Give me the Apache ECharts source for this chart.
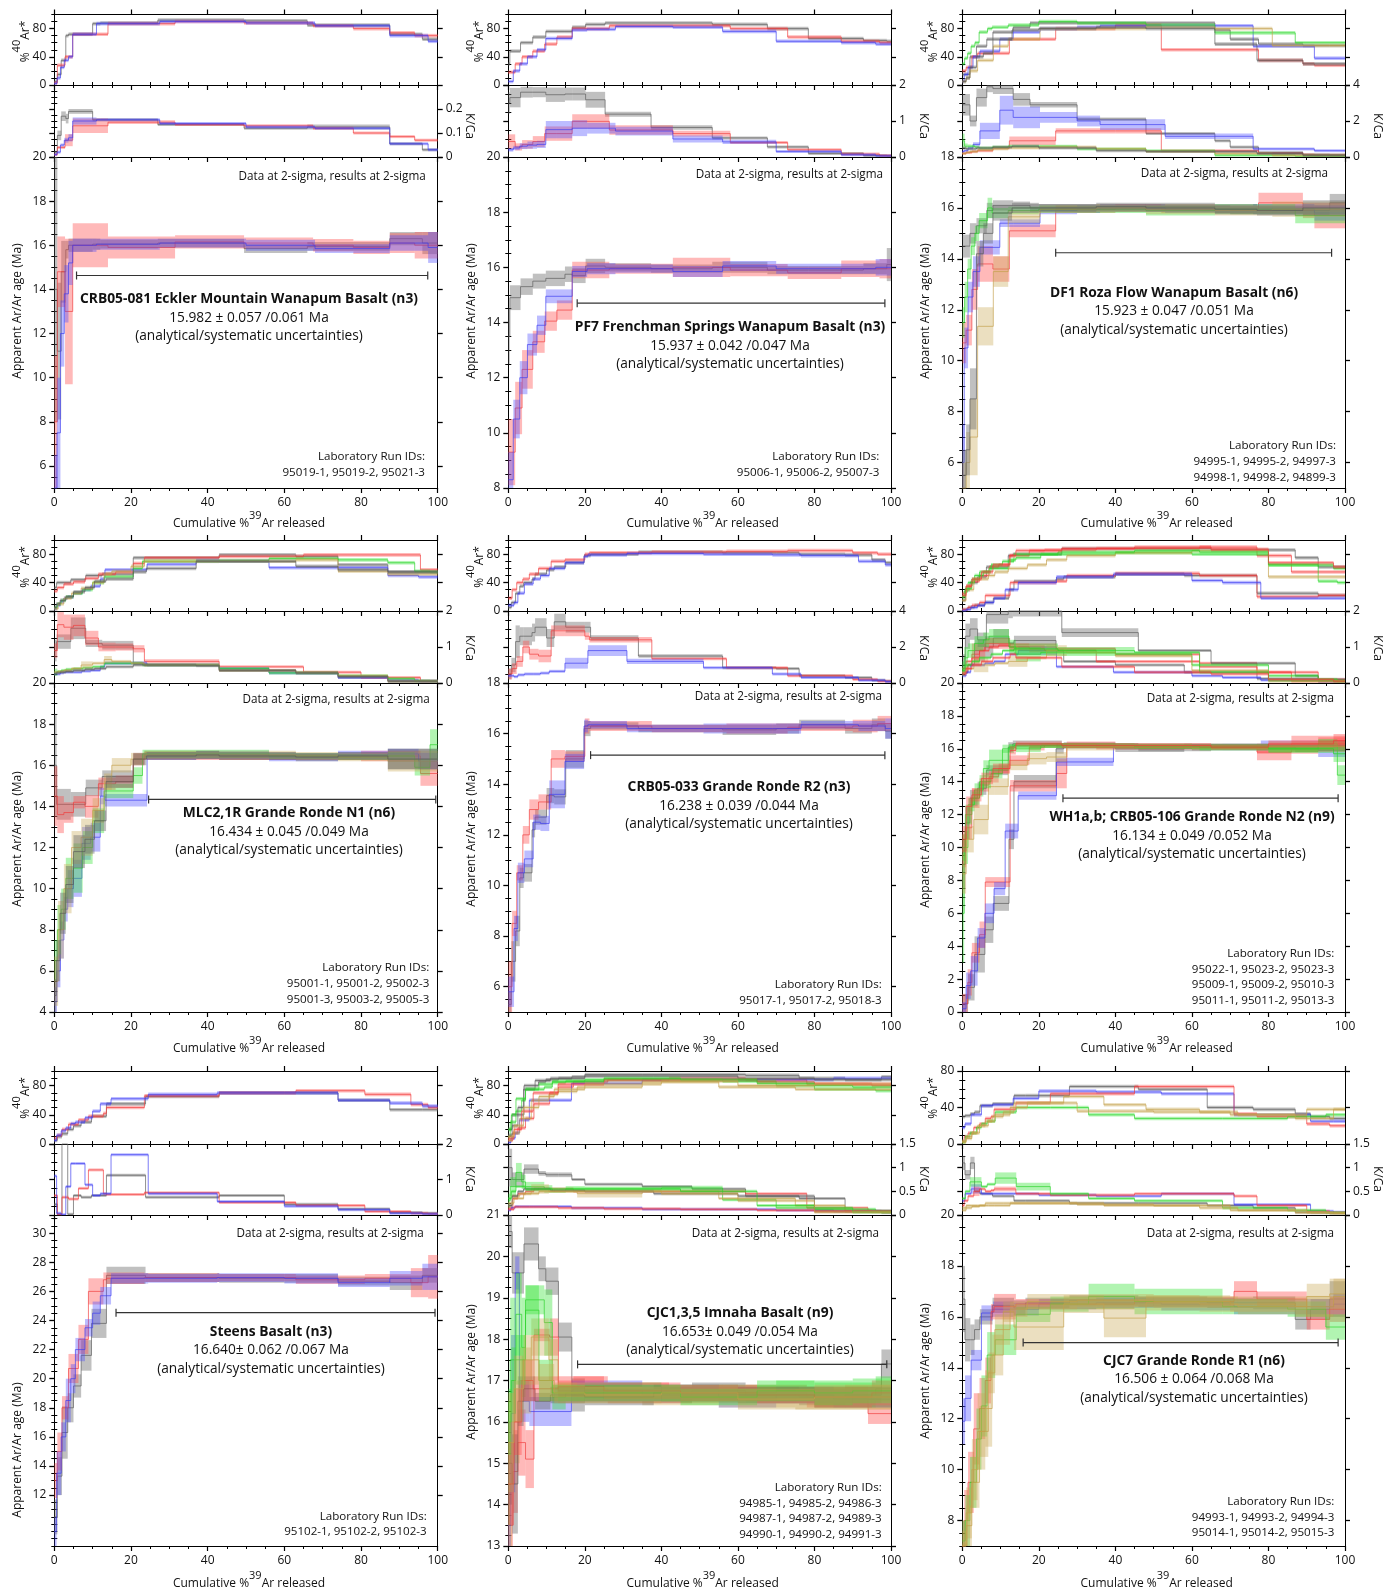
<!DOCTYPE html>
<html>
<head>
<meta charset="utf-8">
<script src="https://cdn.jsdelivr.net/npm/echarts@6/dist/echarts.min.js"></script>
<style>
  html, body { margin: 0; background: #fff; }
  #chart { width: 1396px; height: 1587px; }
</style>
</head>
<body>
<div id="chart"></div>
<script>
// each step: [cumulative %39Ar at step end, age (Ma), age 2s, %40Ar*, K/Ca, K/Ca 2s]
const eckler = [
  [[0.8,14,6,5,0.02],[1.8,11.2,3.1,15,0.09,0.02],[3.0,14.8,1.4,35,0.17,0.02],[3.7,15.8,0.4,70,0.16,0.02],[10,16.0,0.3,72,0.19,0.01],[12,16.05,0.25,87,0.155],[27,16.05,0.2,88,0.155],[49.5,16.1,0.2,92,0.135],[66,15.85,0.2,91,0.12],[87.5,15.95,0.2,85,0.125,0.01],[96,16.3,0.3,72,0.055],[100,16.1,0.5,65,0.03]],
  [[0.8,8,3,3,0.01],[2.8,14.8,1.6,28,0.04],[4.8,13.0,3.3,40,0.07,0.025],[14,16.0,1.0,72,0.13,0.03],[31.5,15.9,0.5,87,0.145,0.008],[49.5,16.15,0.3,90,0.135],[67.5,16.1,0.25,88,0.13],[78,16.0,0.28,84,0.12],[87.5,15.9,0.3,80,0.10],[94,16.1,0.45,74,0.085],[100,16.0,0.6,70,0.07]],
  [[0.7,5.0,1.5,2,0.01],[1.6,7.5,2.5,10,0.02],[2.6,12.0,1.5,25,0.05],[3.7,13.8,1.3,35,0.07,0.01],[4.8,15.2,1.0,40,0.08,0.015],[11,16.0,0.3,72,0.15,0.015],[27.5,16.05,0.25,87,0.155],[50,16.1,0.2,90,0.14],[68,16.0,0.25,88,0.125],[87.5,15.85,0.2,84,0.12],[97.5,16.1,0.35,70,0.055],[100,15.9,0.7,62,0.03]]
];
const ecklerColors = ['gray','red','blue'];

const frenchman = [
  [[0.4,13.5,1.0,30,1.5,0.3],[3.2,14.9,0.45,48,1.65,0.27],[6.4,15.3,0.3,60,1.8,0.15],[9.8,15.5,0.27,68,1.8,0.14],[14.8,15.6,0.28,76,1.73,0.2],[16.7,15.75,0.28,76,1.75,0.18],[20.2,15.7,0.27,82,1.75,0.18],[25.3,16.05,0.26,86,1.59,0.22],[37.3,16.0,0.15,88,1.19,0.07],[53.3,15.95,0.15,88,0.82,0.06],[67.7,16.0,0.2,86,0.53,0.04],[78.4,15.9,0.15,80,0.28,0.03],[92.8,15.9,0.15,66,0.1],[98.9,15.95,0.2,63,0.04],[100,16.1,0.6,62,0.03]],
  [[1.8,9.3,1.2,18,0.43,0.2],[3.6,10.9,0.95,30,0.28,0.1],[6.4,12.3,0.7,40,0.35,0.12],[9.5,13.3,0.4,48,0.43,0.15],[12.7,14.05,0.35,58,0.65,0.2],[16.7,14.45,0.35,68,0.65,0.2],[26.4,15.9,0.3,80,0.99,0.2],[43,15.95,0.18,84,0.75,0.13],[58,16.0,0.35,84,0.65,0.08],[73,15.9,0.22,80,0.4,0.04],[87,15.8,0.22,68,0.2,0.03],[97,15.95,0.3,62,0.08],[100,15.95,0.35,60,0.04]],
  [[1.3,8.3,1.0,5,0.2,0.05],[3.0,10.5,0.7,20,0.25,0.06],[5.0,12.0,0.6,30,0.3,0.08],[7.5,13.2,0.4,40,0.33,0.1],[9.8,13.9,0.35,50,0.35,0.1],[16.7,14.95,0.25,66,0.76,0.24],[20.6,15.85,0.2,78,0.8,0.22],[28,15.95,0.2,79,0.8,0.15],[43,15.95,0.15,83,0.72,0.12],[56,15.85,0.2,82,0.5,0.1],[70,16.05,0.18,76,0.42,0.06],[87,15.95,0.18,62,0.15],[96,15.95,0.18,60,0.06],[100,16.0,0.3,58,0.03]]
];
const frenchmanColors = ['gray','red','blue'];

const roza = [
  [[2.0,14.5,0.45,15,2.9,0.6],[3.7,15.0,0.4,40,2.0,0.3],[6.4,15.3,0.3,55,3.3,0.5],[8.0,15.9,0.3,65,3.9,0.3],[13.3,16.1,0.2,75,3.8,0.3],[17.7,16.1,0.15,82,3.2,0.35],[30,16.0,0.15,88,2.9,0.15],[48,16.0,0.15,88,2.1,0.1],[66,16.05,0.15,88,1.3,0.08],[70,15.95,0.15,78,0.9,0.05],[77.4,15.9,0.15,65,0.55],[89,15.9,0.15,58,0.25],[96,15.9,0.2,56,0.12],[100,16.2,0.35,56,0.1]],
  [[1.0,10.7,0.8,20,0.2],[2.5,11.2,0.6,25,0.25],[4.0,12.8,0.8,40,0.3],[8.0,13.8,0.7,45,0.35],[12.3,13.6,0.5,45,0.5],[24.4,15.1,0.25,65,0.9,0.24],[40,15.95,0.15,80,1.45,0.15],[52,16.0,0.15,85,1.45,0.15],[77.4,15.95,0.15,50,0.35],[89,16.2,0.4,35,0.2],[92,15.9,0.3,30,0.12],[100,15.7,0.5,28,0.1]],
  [[0.5,6.0,1.5,5,0.3],[1.5,10.5,0.8,15,0.35],[2.8,12.5,0.6,25,0.5],[4.6,13.5,0.6,40,0.7,0.12],[9.8,14.45,0.28,48,1.45,0.45],[13.3,15.4,0.15,65,2.6,0.8],[20.3,15.4,0.15,75,2.2,0.6],[30,15.9,0.15,80,2.2,0.3],[36,15.95,0.15,82,2.0,0.3],[53,16.0,0.15,84,1.8,0.3],[76,15.95,0.15,84,1.15,0.15],[92,15.95,0.2,55,0.45],[100,15.8,0.3,38,0.35]],
  [[0.6,11.5,0.6,30,0.9,0.4],[1.4,12.5,0.6,38,0.6,0.15],[2.3,13.6,0.4,45,0.6,0.1],[3.3,14.5,0.35,55,0.6],[4.4,15.0,0.3,60,0.55],[6.6,15.5,0.3,75,0.5],[7.8,16.0,0.4,80,0.5],[12,15.8,0.2,82,0.55],[20,15.9,0.15,85,0.6],[30,15.95,0.15,90,0.6],[48,15.95,0.15,88,0.45],[66,15.9,0.2,85,0.35],[87,15.95,0.2,74,0.1],[100,15.7,0.3,60,0.05]],
  [[1.0,5.0,1.0,5,0.2],[2.0,6.0,1.2,10,0.25],[4.0,7.0,1.5,20,0.3],[8.1,11.35,0.75,35,0.4],[12,13.5,0.6,55,0.45],[20.3,15.65,0.25,65,0.5],[35,15.95,0.15,80,0.55],[48,16.0,0.15,80,0.45],[66,15.95,0.2,82,0.3],[81,15.9,0.2,80,0.2],[100,15.95,0.3,56,0.1]],
  [[1.0,5.5,1.0,5,0.5],[2.0,6.5,1.0,10,0.45],[3.7,8.5,1.2,25,0.45],[5.5,14.2,0.5,40,0.5],[8.0,15.0,0.4,45,0.5],[13,15.8,0.3,65,0.55],[20,16.0,0.2,78,0.6],[35,16.0,0.15,80,0.5],[48,16.05,0.15,82,0.35],[66,16.0,0.15,80,0.3],[77,15.95,0.2,58,0.3],[89,15.9,0.2,35,0.2],[100,16.0,0.3,30,0.1]]
];
const rozaColors = ['gray','red','blue','green','tan','gray'];

const mlc2 = [
  [[0.6,16.0,2.5,33,0.9,0.3],[4.3,14.1,0.75,40,1.15,0.2],[8.2,14.1,0.6,44,1.52,0.3],[12.5,14.9,0.4,50,1.1,0.1],[20.6,15.45,0.3,52,1.05,0.12],[23.5,16.3,0.25,75,0.55],[43,16.5,0.2,75,0.5],[63,16.45,0.2,79,0.35],[74,16.4,0.15,77,0.28],[87,16.45,0.2,65,0.15],[100,16.3,0.5,55,0.05]],
  [[0.8,14.5,1.45,28,0.9,0.2],[2.5,13.6,0.9,33,1.62,0.35],[5.0,13.7,0.5,38,1.55,0.35],[8.0,14.2,0.3,41,1.6,0.3],[11.5,14.0,0.55,46,1.25,0.2],[16,15.1,0.3,52,1.0,0.12],[20.6,15.2,0.3,55,1.0,0.1],[23.5,16.3,0.3,67,0.95,0.1],[43,16.45,0.2,75,0.6,0.06],[65,16.4,0.15,77,0.45],[80,16.4,0.15,79,0.3],[95.5,16.45,0.25,79,0.15],[100,15.6,0.6,58,0.05]],
  [[0.7,4.5,0.7,3,0.25],[1.6,6.0,0.8,8,0.25],[2.5,7.5,0.9,13,0.28],[3.5,9.0,0.6,18,0.3],[5.0,10.0,0.9,20,0.3],[7.2,10.5,0.9,25,0.3],[9.5,12.2,0.8,30,0.33],[12.0,12.5,0.7,35,0.35],[13.2,14.5,0.4,45,0.45],[24.2,14.3,0.3,58,0.55,0.05],[37,16.45,0.2,66,0.5],[43,16.5,0.2,71,0.5],[56,16.5,0.2,70,0.4],[74,16.4,0.2,61,0.28],[87,16.5,0.2,61,0.15],[95,16.55,0.25,50,0.08],[100,16.2,0.4,48,0.05]],
  [[0.8,6.5,1.0,5,0.3,0.1],[1.8,8.0,1.2,10,0.32],[3.0,9.0,1.0,15,0.35],[5.0,10.5,1.0,20,0.38],[7.4,11.0,1.2,25,0.4],[10.0,12.0,0.8,30,0.42],[13.0,13.3,0.6,40,0.45],[20.6,14.75,0.35,48,0.55],[23.0,15.5,0.4,60,0.55],[43,16.55,0.2,70,0.5],[56,16.55,0.2,71,0.4],[74,16.45,0.15,74,0.28],[87,16.4,0.15,72,0.2],[94,16.45,0.2,68,0.12],[98,15.9,0.4,56,0.06],[100,17.0,0.75,55,0.05]],
  [[1.0,5.5,1.2,3,0.3],[2.5,8.0,1.4,10,0.32],[4.5,10.0,1.2,18,0.35],[7.0,12.0,0.8,25,0.4],[10.0,12.5,0.9,32,0.5,0.1],[13.0,13.8,0.6,40,0.55],[15.0,15.2,0.4,52,0.65,0.1],[20.0,16.0,0.35,56,0.6],[23.5,16.3,0.3,63,0.55],[43,16.5,0.2,70,0.5],[63,16.5,0.2,70,0.35],[74,16.45,0.2,72,0.3],[87,16.4,0.2,56,0.2],[100,16.2,0.5,52,0.05]],
  [[0.5,4.8,0.8,5,0.25],[1.5,6.5,1.0,10,0.28],[3.0,8.8,1.0,15,0.3],[5.0,10.2,0.9,20,0.32],[8.0,11.8,0.8,27,0.35],[10.5,12.4,0.7,33,0.38],[13.5,13.3,0.5,42,0.4],[20.6,15.2,0.3,45,0.45],[24,16.3,0.3,55,0.5],[37,16.45,0.2,60,0.5],[43,16.5,0.2,70,0.48],[63,16.45,0.2,70,0.35],[74,16.4,0.2,63,0.28],[87,16.45,0.2,58,0.18],[100,16.3,0.5,55,0.05]]
];
const mlc2Colors = ['gray','red','blue','green','tan','gray'];

const crb033 = [
  [[0.8,5.3,0.5,5,0.5,0.3],[1.9,7.0,0.8,12,1.0,0.4],[3.0,8.2,0.6,25,2.3,0.9],[4.0,10.3,0.4,35,2.6,0.5],[6.2,10.5,0.35,40,2.6,0.5],[7.0,12.2,0.3,45,2.8,0.5],[10.0,12.7,0.3,52,3.1,0.5],[12.0,13.55,0.3,58,2.5,0.5],[15.0,13.5,0.3,62,3.4,0.45],[19.8,15.0,0.35,68,3.1,0.3],[21.5,16.2,0.3,78,3.1,0.3],[34,16.3,0.15,80,2.5,0.15],[56,16.2,0.15,83,1.5,0.1],[70,16.15,0.2,82,0.85],[76,16.2,0.2,82,0.8],[88,16.35,0.2,80,0.4],[95,16.2,0.2,79,0.3],[98.5,16.35,0.25,72,0.15],[100,16.1,0.3,68,0.1]],
  [[1.0,6.0,1.0,18,0.5,0.3],[2.2,8.5,0.5,30,0.8,0.3],[3.8,10.5,0.3,40,1.2,0.3],[5.5,12.0,0.35,45,2.0,0.35],[7.9,13.0,0.4,52,1.6,0.3],[11.2,13.3,0.3,60,1.5,0.35],[14.8,15.0,0.35,70,2.9,0.3],[20.0,15.1,0.2,72,2.9,0.3],[21.2,16.3,0.3,80,2.6,0.2],[37.5,16.3,0.2,82,2.4,0.15],[57,16.2,0.15,83,1.35],[73,16.2,0.2,84,0.85],[90,16.25,0.15,85,0.4],[96.5,16.3,0.25,82,0.2],[100,16.4,0.3,80,0.1]],
  [[1.5,5.8,0.6,8,0.4],[2.5,8.3,0.5,12,0.35],[4.2,10.5,0.4,25,0.45],[6.5,11.05,0.33,38,0.5],[8.4,12.5,0.3,45,0.5],[10.7,12.45,0.3,50,0.55],[14.8,13.6,0.55,60,0.65],[19.8,14.9,0.3,68,1.1,0.3],[20.8,16.3,0.25,77,1.1,0.3],[31,16.35,0.15,79,1.8,0.3],[51,16.2,0.15,81,1.2,0.15],[69,16.2,0.2,80,0.85],[76.5,16.2,0.2,79,0.5],[91.5,16.35,0.15,78,0.3],[98.5,16.3,0.2,70,0.15],[100,16.2,0.4,65,0.08]]
];
const crb033Colors = ['gray','red','blue'];

const wh1 = [
  [[1.5,0.5,0.6,2,0.3],[3.2,1.5,0.8,5,0.5],[5.9,3.5,1.1,8,0.9,0.3],[8.1,5.0,0.8,12,1.0,0.3],[12.2,6.6,0.45,18,1.25,0.25],[13.5,10.5,0.6,30,1.1],[24.5,14.0,0.4,42,1.18,0.13],[26.5,16.0,0.3,45,0.9],[40,16.2,0.2,48,0.6],[58,16.0,0.2,52,0.5],[77,16.15,0.15,50,0.3],[93,16.1,0.2,25,0.12],[100,16.2,0.3,22,0.05]],
  [[1.4,0.5,0.6,2,0.3],[2.5,1.8,0.8,5,0.5],[4.5,3.6,0.6,8,0.8,0.3],[6.0,4.7,0.8,12,0.9,0.2],[12.5,7.9,0.3,22,1.1,0.15],[24.6,13.75,0.35,40,1.0,0.1],[27.3,14.5,0.9,42,0.95],[40,16.25,0.2,50,0.95],[62,16.15,0.15,53,0.8],[77,16.1,0.15,50,0.55],[93,16.0,0.3,20,0.3],[100,16.3,0.4,22,0.1]],
  [[1.0,0.2,0.4,0,0.2],[2.2,1.6,0.8,2,0.3],[4.0,2.5,0.9,5,0.5],[5.9,4.5,0.6,8,0.5],[8.3,6.0,0.6,12,0.55],[11.2,7.5,0.4,18,0.6],[14.6,11.0,0.45,30,0.8],[24.6,13.15,0.25,40,0.9,0.12],[39.5,15.2,0.25,48,0.45],[60,16.15,0.15,52,0.3],[68,16.1,0.2,43,0.2],[78,16.1,0.2,40,0.15],[93,16.2,0.3,18,0.08],[100,15.9,0.4,18,0.05]],
  [[0.8,9.0,1.5,15,0.5,0.3],[2.0,11.5,1.0,30,1.3,0.35],[4.0,13.0,0.5,40,1.5,0.3],[6.3,13.6,0.4,48,1.2,0.2],[12.0,14.7,0.3,62,1.9,0.25],[13.2,16.1,0.3,78,2.0,0.2],[26,16.3,0.2,80,2.05,0.2],[46,16.2,0.15,88,1.4,0.12],[65,16.05,0.2,88,0.9],[87,16.1,0.15,86,0.55],[93,16.0,0.2,75,0.2],[100,16.2,0.3,62,0.1]],
  [[1.0,9.8,1.0,25,0.4],[2.5,11.2,0.7,35,0.6],[4.5,13.0,0.6,42,0.7],[7.0,13.8,0.4,50,0.9],[9.5,14.3,0.35,62,1.0],[12.3,14.8,0.3,65,1.05],[17.5,15.3,0.3,78,1.0,0.1],[21.5,16.1,0.2,85,0.95,0.1],[35,16.2,0.15,86,0.9],[62,16.1,0.15,88,0.6],[77,16.15,0.15,90,0.45],[86,15.8,0.5,78,0.3],[100,16.3,0.5,55,0.05]],
  [[0.5,6.0,3.0,20,0.4,0.2],[1.5,10.0,1.0,28,0.7,0.3],[3.2,12.6,0.4,40,0.9,0.2],[5.5,13.5,0.4,50,1.1,0.2],[7.0,14.8,0.5,55,1.2,0.2],[12.2,15.3,0.65,60,1.3,0.2],[14.0,16.1,0.2,72,1.0,0.2],[20.5,16.0,0.2,75,0.8,0.2],[40,16.2,0.15,80,0.85,0.1],[60,16.15,0.15,82,0.8],[80,16.1,0.15,80,0.5],[93,16.0,0.2,65,0.2],[98,16.3,0.3,42,0.1],[100,14.4,0.6,40,0.05]],
  [[1.0,8.4,1.2,15,0.3],[3.0,10.5,0.8,30,0.4],[6.8,11.7,0.9,45,0.5,0.2],[8.5,13.7,0.5,50,0.5],[12.0,13.7,0.5,55,0.55],[17.0,15.0,0.3,60,0.6,0.15],[22.0,15.4,0.35,65,0.7],[27.3,15.5,0.3,72,0.9,0.15],[40,16.1,0.2,78,0.85],[60,16.15,0.15,82,0.75],[80,16.05,0.15,85,0.35],[100,16.15,0.3,48,0.05]],
  [[0.8,10.0,0.8,20,0.35],[2.5,12.0,0.6,32,0.5],[4.5,13.0,0.4,45,0.6],[7.5,14.0,0.4,55,0.7],[10.5,14.5,0.3,65,0.8],[13.5,16.0,0.25,70,0.9],[25,16.2,0.15,80,0.95,0.15],[45,16.2,0.15,83,0.9,0.1],[62,16.15,0.15,85,0.85],[80,16.1,0.2,83,0.3],[97,16.0,0.25,65,0.08],[100,15.7,0.5,60,0.05]],
  [[1.0,10.5,0.8,22,0.25],[2.5,12.5,0.6,35,0.4],[5.0,13.2,0.4,45,0.5],[8.0,14.2,0.35,55,0.6],[12.5,14.8,0.3,65,0.7],[14.0,15.9,0.25,78,0.8],[26,16.3,0.15,85,0.7],[45,16.2,0.15,88,0.45],[65,16.2,0.15,90,0.3],[80,16.1,0.15,87,0.25],[97,16.3,0.2,68,0.1],[100,16.5,0.4,62,0.05]]
];
const wh1Colors = ['gray','red','blue','gray','red','green','tan','green','red'];

const steens = [
  [[0.8,10.5,1.2,5,0.3],[2.0,13.3,1.3,10,0.01],[3.5,16.3,1.8,14,2.1],[5.0,18.0,1.0,20,0.02],[7.0,19.5,0.8,25,0.55],[9.7,21.6,1.05,30,0.5],[13.6,23.8,1.0,38,0.55],[23.8,27.1,0.6,55,1.12],[43,26.95,0.3,65,0.5],[60,26.9,0.3,70,0.55],[74,26.9,0.3,70,0.3],[87.5,26.7,0.3,60,0.17],[96,26.6,0.5,47,0.07],[100,27.1,0.5,47,0.05]],
  [[0.8,13.0,1.2,8,0.55],[2.0,15.0,1.3,12,0.01],[3.7,18.0,0.8,20,0.5],[6.3,20.7,1.0,27,0.45],[8.9,22.7,1.0,33,0.75],[12.8,26.0,0.9,38,1.27],[13.6,26.8,0.5,42,0.6],[23.5,26.9,0.4,50,0.58],[43,26.95,0.3,66,0.63],[63,26.95,0.25,70,0.35],[81,26.8,0.3,73,0.27],[93,26.9,0.3,68,0.1],[97.5,26.6,1.0,54,0.05],[100,27.0,1.5,50,0.03]],
  [[0.6,9.5,1.0,5,1.1],[1.8,13.5,1.5,12,0.05],[3.0,16.0,1.0,18,0.01],[4.3,18.5,1.5,22,0.8],[5.5,20.0,1.0,28,1.45],[8.0,22.0,0.8,30,1.45],[10.0,23.5,0.6,36,0.85],[12.0,24.5,0.8,45,0.55],[14.8,25.7,0.6,55,0.6],[24.5,26.9,0.35,62,1.7],[42.5,26.9,0.3,68,0.6],[60,26.95,0.3,70,0.38],[74,26.9,0.35,70,0.25],[87.5,26.6,0.3,60,0.15],[96,26.9,0.5,56,0.05],[100,27.0,0.9,52,0.03]]
];
const steensColors = ['gray','red','blue'];

const imnaha = [
  [[1.0,20.6,0.4,20,1.0,0.4],[4.1,19.6,0.5,40,0.75,0.15],[7.9,20.3,0.4,80,0.97,0.1],[9.8,19.7,0.3,85,0.88,0.05],[13.1,19.4,0.33,88,0.85,0.05],[16.6,18.05,0.35,90,0.85,0.05],[20,16.65,0.4,92,0.75],[35,16.7,0.2,95,0.65],[48,16.65,0.2,95,0.6],[62,16.75,0.2,95,0.55],[76,16.65,0.2,94,0.4],[88,16.6,0.2,90,0.35],[97.5,16.65,0.2,88,0.08],[100,17.4,0.35,92,0.05]],
  [[1.2,13.5,0.8,5,0.15],[2.5,14.8,1.0,15,0.35],[4.5,15.5,0.8,22,0.45],[6.7,15.1,0.7,35,0.5],[10.8,18.1,0.15,55,0.55],[13.1,18.05,0.45,70,0.55],[17,16.75,0.25,78,0.55],[26,16.8,0.3,85,0.5],[42,16.7,0.25,88,0.5],[62,16.65,0.2,90,0.5],[78,16.7,0.2,88,0.45],[94,16.6,0.25,82,0.15],[100,16.2,0.25,82,0.08]],
  [[0.7,13.5,1.5,2,0.1],[1.8,16.2,1.9,8,0.15],[2.9,19.6,0.4,15,0.18],[5.5,16.5,0.5,33,0.18],[16.5,16.25,0.35,60,0.18],[35,16.75,0.25,83,0.15],[55,16.7,0.2,88,0.12],[70,16.55,0.2,88,0.12],[85,16.65,0.2,88,0.1],[100,16.55,0.2,90,0.08]],
  [[0.5,15.0,1.5,10,0.3,0.15],[2.0,17.5,1.5,30,0.6,0.2],[3.5,18.6,1.0,45,0.9,0.2],[4.5,17.8,1.2,60,0.7,0.15],[9.4,18.95,0.35,75,0.6,0.1],[11.5,18.4,0.8,78,0.55,0.08],[15,16.6,0.3,84,0.5],[20,16.7,0.2,86,0.55,0.06],[40,16.75,0.2,88,0.55,0.05],[56,16.7,0.2,88,0.57,0.05],[70,16.7,0.2,86,0.32],[80,16.75,0.25,80,0.15],[96,16.65,0.3,75,0.12],[100,16.8,0.3,73,0.08]],
  [[1.0,14.5,1.5,5,0.2],[3.0,16.0,1.0,15,0.4],[6.0,17.0,0.8,35,0.45],[10.6,18.05,0.45,60,0.55,0.1],[13.0,17.5,0.5,68,0.5],[18,16.7,0.25,72,0.5],[35,16.65,0.2,78,0.45,0.08],[55,16.6,0.2,85,0.5],[75,16.55,0.2,78,0.35],[88,16.55,0.25,75,0.2],[100,16.6,0.3,75,0.08]],
  [[1.0,15.0,1.0,12,0.2],[2.5,14.5,1.2,25,0.4],[4.0,16.5,0.6,50,0.5],[7.0,16.8,0.3,75,0.55],[11.0,16.5,0.2,87,0.55],[20,16.65,0.2,90,0.52],[38,16.6,0.2,93,0.5],[60,16.7,0.2,93,0.45],[80,16.65,0.2,90,0.4],[100,16.6,0.25,88,0.08]],
  [[1.5,14.5,1.0,8,0.12],[3.5,16.0,0.8,20,0.17],[6.5,17.0,0.5,45,0.17],[13,16.8,0.3,70,0.17],[25,16.85,0.25,82,0.15],[45,16.75,0.2,88,0.13],[65,16.7,0.2,88,0.12],[80,16.65,0.2,85,0.1],[95,16.6,0.25,82,0.08],[100,16.7,0.3,80,0.07]],
  [[0.8,16.0,0.8,20,0.35],[2.0,17.0,0.8,40,0.5],[4.5,17.5,0.6,62,0.6],[8.0,18.7,0.6,75,0.55],[11.5,17.0,0.5,82,0.55],[25,16.7,0.2,86,0.55],[45,16.7,0.2,90,0.55],[65,16.6,0.2,88,0.5],[80,16.75,0.25,83,0.2],[90,16.7,0.3,80,0.15],[100,16.75,0.3,78,0.06]],
  [[1.5,15.5,1.2,10,0.25],[4.0,16.8,0.8,25,0.35],[8.0,17.5,0.6,50,0.45],[12.0,17.0,0.4,65,0.5],[20,16.7,0.25,75,0.5],[40,16.65,0.2,82,0.5],[60,16.7,0.2,86,0.45],[80,16.55,0.25,80,0.3],[100,16.6,0.3,82,0.06]]
];
const imnahaColors = ['gray','red','blue','green','tan','gray','red','green','tan'];

const cjc7 = [
  [[0.7,16.7,1.3,30,1.1,0.15],[2.1,15.1,0.85,31,0.85,0.1],[3.2,15.1,0.6,33,1.1,0.13],[4.6,15.5,0.4,35,0.5],[7.9,16.0,0.3,42,0.45],[13.5,16.45,0.3,44,0.4],[16.5,16.35,0.3,53,0.3],[28,16.55,0.2,53,0.3],[46,16.65,0.2,63,0.25],[64,16.6,0.2,60,0.25],[76,16.55,0.2,40,0.2],[87,16.55,0.25,38,0.15],[91,15.9,0.4,33,0.06],[96,16.3,0.4,30,0.05],[100,16.7,0.7,28,0.04]],
  [[0.7,11.9,0.9,18,0.3],[2.3,12.8,0.9,22,0.45],[5.0,14.3,0.4,32,0.55,0.1],[8.0,16.15,0.3,42,0.45],[13.3,16.3,0.3,43,0.45],[20,16.3,0.25,50,0.45],[35,16.5,0.2,58,0.42],[52,16.55,0.2,57,0.4],[71,16.5,0.25,55,0.45],[91,16.4,0.3,32,0.22],[97,16.4,0.3,25,0.08],[100,16.5,0.4,25,0.06]],
  [[0.5,7.0,1.0,3,0.2],[1.5,8.0,1.2,8,0.3],[3.0,9.5,1.2,12,0.4],[4.5,11.6,1.4,18,0.5,0.1],[6.0,12.4,1.2,22,0.55],[7.5,13.5,0.9,28,0.5],[8.3,16.2,0.3,30,0.52],[14,16.4,0.5,38,0.55,0.05],[23,16.5,0.2,45,0.45],[45,16.5,0.2,55,0.42],[71,16.6,0.2,63,0.45],[77,17.0,0.4,33,0.4],[90,16.7,0.3,30,0.2],[96,15.9,0.4,22,0.08],[100,16.3,0.5,20,0.05]],
  [[0.8,7.2,0.8,2,0.35],[2.0,8.0,1.0,8,0.5],[3.7,9.5,1.0,12,0.7,0.1],[5.0,11.2,1.2,18,0.7,0.1],[6.5,12.5,1.2,22,0.6],[8.6,14.5,0.9,25,0.65],[14.1,15.1,0.6,35,0.78,0.12],[23,16.1,0.3,40,0.6,0.08],[33,16.5,0.3,40,0.45],[45,16.8,0.5,32,0.35],[68,16.6,0.5,28,0.3],[85,16.4,0.3,28,0.15],[95,16.3,0.3,30,0.1],[100,15.6,0.5,32,0.05]],
  [[1.0,7.0,0.6,3,0.15],[2.5,8.3,1.0,8,0.2],[4.0,10.0,1.2,12,0.2],[6.0,11.5,1.5,20,0.2],[7.8,12.4,1.5,25,0.25],[10.7,14.5,0.8,30,0.25],[13.5,16.2,0.4,35,0.25],[26.5,15.6,0.9,45,0.25],[37,16.5,0.35,52,0.25],[48,15.95,0.75,43,0.2],[62,16.55,0.3,38,0.2],[72,16.5,0.3,35,0.15],[90,16.4,0.3,32,0.1],[96,16.8,0.5,38,0.05],[100,16.9,0.6,38,0.04]],
  [[1.0,6.5,0.6,2,0.1],[2.5,7.8,0.8,6,0.15],[4.5,9.5,1.0,12,0.18],[6.8,11.5,1.0,20,0.2],[8.5,13.8,0.8,25,0.2],[12.5,15.5,0.6,32,0.2],[17,16.3,0.3,40,0.25],[30,16.6,0.3,45,0.25],[50,16.65,0.25,36,0.22],[70,16.6,0.25,35,0.2],[87,16.5,0.3,32,0.1],[97,16.4,0.4,28,0.05],[100,16.8,0.7,38,0.04]]
];
const cjc7Colors = ['gray','blue','red','green','tan','tan'];

const panelRuns = [eckler, frenchman, roza, mlc2, crb033, wh1, steens, imnaha, cjc7];
const panelColors = [ecklerColors, frenchmanColors, rozaColors, mlc2Colors, crb033Colors, wh1Colors, steensColors, imnahaColors, cjc7Colors];

// axis ranges and tick labels
const arMax = [100, 100, 100, 100, 100, 100, 100, 100, 80];
const arTicks = [0, 40, 80];
const kcaMax = [0.3, 2, 4, 2, 4, 2, 2, 1.5, 1.5];
const kcaTicks = [[0,0.1,0.2],[0,1,2],[0,2,4],[0,1,2],[0,2,4],[0,1,2],[0,1,2],[0,0.5,1,1.5],[0,0.5,1,1.5]];
const kcaMinor = [0.025, 0.25, 0.5, 0.25, 0.5, 0.25, 0.25, 0.25, 0.25];
const ageMin = [5, 8, 5, 4, 5, 0, 8.5, 13, 7];
const ageMax = [20, 20, 18, 20, 18, 20, 31.25, 21, 20];
const ageTicks = [
  [6,8,10,12,14,16,18,20],
  [8,10,12,14,16,18,20],
  [6,8,10,12,14,16,18],
  [4,6,8,10,12,14,16,18,20],
  [6,8,10,12,14,16,18],
  [0,2,4,6,8,10,12,14,16,18,20],
  [12,14,16,18,20,22,24,26,28,30],
  [13,14,15,16,17,18,19,20,21],
  [8,10,12,14,16,18,20]
];
const ageMinor = [0.5, 0.5, 0.5, 0.5, 0.5, 0.5, 0.5, 0.25, 0.5];
const xTicks = [0, 20, 40, 60, 80, 100];

// plateau bars
const plateauFrom = [5.8, 18.0, 24.4, 24.6, 21.5, 26.3, 16.1, 18.1, 15.9];
const plateauTo = [97.4, 98.4, 96.5, 99.5, 98.4, 98.2, 99.3, 98.9, 98.2];
const plateauAt = [14.63, 14.70, 14.24, 14.34, 15.15, 13.0, 24.54, 17.39, 14.99];

// texts
const titles = [
  'CRB05-081 Eckler Mountain Wanapum Basalt (n3)',
  'PF7 Frenchman Springs Wanapum Basalt (n3)',
  'DF1 Roza Flow Wanapum Basalt (n6)',
  'MLC2,1R Grande Ronde N1 (n6)',
  'CRB05-033 Grande Ronde R2 (n3)',
  'WH1a,b; CRB05-106 Grande Ronde N2 (n9)',
  'Steens Basalt (n3)',
  'CJC1,3,5 Imnaha Basalt (n9)',
  'CJC7 Grande Ronde R1 (n6)'
];
const ageTexts = [
  '15.982 ± 0.057 /0.061 Ma', '15.937 ± 0.042 /0.047 Ma', '15.923 ± 0.047 /0.051 Ma',
  '16.434 ± 0.045 /0.049 Ma', '16.238 ± 0.039 /0.044 Ma', '16.134 ± 0.049 /0.052 Ma',
  '16.640± 0.062 /0.067 Ma', '16.653± 0.049 /0.054 Ma', '16.506 ± 0.064 /0.068 Ma'
];
const runIds = [
  ['95019-1, 95019-2, 95021-3'],
  ['95006-1, 95006-2, 95007-3'],
  ['94995-1, 94995-2, 94997-3', '94998-1, 94998-2, 94899-3'],
  ['95001-1, 95001-2, 95002-3', '95001-3, 95003-2, 95005-3'],
  ['95017-1, 95017-2, 95018-3'],
  ['95022-1, 95023-2, 95023-3', '95009-1, 95009-2, 95010-3', '95011-1, 95011-2, 95013-3'],
  ['95102-1, 95102-2, 95102-3'],
  ['94985-1, 94985-2, 94986-3', '94987-1, 94987-2, 94989-3', '94990-1, 94990-2, 94991-3'],
  ['94993-1, 94993-2, 94994-3', '95014-1, 95014-2, 95015-3']
];

// page layout (px)
const colLeft = [54.3, 508.3, 962.3];
const colRight = [437.7, 891, 1345];
const rowAr = [14.5, 540, 1071];
const rowK = [85, 611, 1144];
const rowAge = [157, 683, 1215];
const rowBot = [488, 1012, 1546];
const titleX = [249, 730, 1174, 289, 739, 1192, 271, 740, 1194];
const titleY = [299.4, 327.5, 293, 813.4, 787.2, 817.4, 1332, 1313.2, 1360.7];
const noteDx = [12, 8, 17, 8, 9, 11, 14, 12, 11];
const noteY = [176.6, 174.9, 173.9, 700, 696.7, 698.3, 1234, 1234, 1234];
const idsRight = [425, 879.3, 1336, 429.3, 881.7, 1334.3, 426.7, 881.7, 1334.3];
const idsY = [456.8, 456.8, 445.6, 967.9, 985, 953.5, 1516.2, 1487.5, 1501.4];
const ageNameY = [311, 311, 311, 839, 839, 840, 1450, 1372, 1371];
const kcaNameY = [126, 648, 1179];
const xNameY = [520, 1045, 1580];

const FONT = "'Open Sans', 'DejaVu Sans', sans-serif";
const fills = {
  gray: 'rgba(105,105,105,0.42)', red: 'rgba(255,70,70,0.38)', blue: 'rgba(70,70,255,0.36)',
  green: 'rgba(50,225,50,0.38)', tan: 'rgba(200,165,80,0.36)'
};
const strokes = {
  gray: 'rgba(90,90,90,0.75)', red: 'rgba(240,60,60,0.75)', blue: 'rgba(60,60,240,0.75)',
  green: 'rgba(40,210,40,0.75)', tan: 'rgba(195,160,75,0.75)'
};

const grids = [], xAxes = [], yAxes = [], series = [], graphics = [];

function ticksBetween(min, max, step, skip) {
  const out = [];
  const start = Math.ceil(min / step - 1e-9) * step;
  for (let v = start; v <= max + 1e-9; v += step) {
    const r = +v.toFixed(5);
    if (!skip.some(s => Math.abs(s - r) < 1e-6)) out.push(r);
  }
  return out;
}

function addGrid(left, top, width, height) {
  grids.push({ left, top, width, height, containLabel: false });
  return grids.length - 1;
}

function addX(gi, position, showLabels) {
  xAxes.push({
    gridIndex: gi, type: 'value', min: 0, max: 100, position,
    axisLine: { show: true, onZero: false, lineStyle: { color: '#000', width: 1 } },
    axisTick: { show: true, length: 5, customValues: xTicks, lineStyle: { color: '#000', width: 1.2 } },
    axisLabel: { show: showLabels, customValues: xTicks, fontFamily: FONT, fontSize: 12, color: '#111', margin: 9 },
    splitLine: { show: false }
  });
  const idx = xAxes.length - 1;
  xAxes.push({
    gridIndex: gi, type: 'value', min: 0, max: 100, position,
    axisLine: { show: false },
    axisTick: { show: true, length: 3, customValues: ticksBetween(0, 100, 5, xTicks), lineStyle: { color: '#000', width: 1 } },
    axisLabel: { show: false }, splitLine: { show: false }
  });
  return idx;
}

function addY(gi, position, min, max, majors, minorStep, showLabels) {
  yAxes.push({
    gridIndex: gi, type: 'value', min, max, position,
    axisLine: { show: true, onZero: false, lineStyle: { color: '#000', width: 1 } },
    axisTick: { show: true, length: 5, customValues: majors, lineStyle: { color: '#000', width: 1.3 } },
    axisLabel: { show: showLabels, customValues: majors, fontFamily: FONT, fontSize: 12, color: '#111', margin: 8 },
    splitLine: { show: false }
  });
  const idx = yAxes.length - 1;
  yAxes.push({
    gridIndex: gi, type: 'value', min, max, position,
    axisLine: { show: false },
    axisTick: { show: true, length: 3, customValues: ticksBetween(min, max, minorStep, majors), lineStyle: { color: '#000', width: 1 } },
    axisLabel: { show: false }, splitLine: { show: false }
  });
  return idx;
}

function stepRender(fill, stroke, fixedHalf) {
  return function (params, api) {
    const cs = params.coordSys;
    const box = { x: cs.x, y: cs.y, width: cs.width, height: cs.height };
    const x0 = api.value(0), x1 = api.value(1), v = api.value(2), e = api.value(3), pv = api.value(4);
    const a = api.coord([x0, v]), b = api.coord([x1, v]), c = api.coord([x0, pv]);
    let top, bot;
    if (fixedHalf) {
      top = a[1] - fixedHalf; bot = a[1] + fixedHalf;
    } else {
      top = api.coord([x0, v + e])[1]; bot = api.coord([x0, v - e])[1];
      if (bot - top < 3) { top = a[1] - 1.5; bot = a[1] + 1.5; }
    }
    const children = [];
    const r = echarts.graphic.clipRectByRect({ x: a[0], y: top, width: b[0] - a[0], height: bot - top }, box);
    if (r) children.push({ type: 'rect', shape: r, style: { fill } });
    const pts = echarts.graphic.clipPointsByRect([c, a, b], box);
    children.push({ type: 'polyline', shape: { points: pts }, style: { stroke, lineWidth: 0.9, fill: null } });
    return { type: 'group', children };
  };
}

function stepItems(rows, col, errCol) {
  const items = [];
  let px = 0, pv = rows[0][col];
  rows.forEach(r => {
    const err = errCol == null ? 0 : (r[errCol] || 0);
    items.push([px, r[0], r[col], err, pv]);
    px = r[0]; pv = r[col];
  });
  return items;
}

function addText(x, y, text, o) {
  o = o || {};
  const style = {
    text, legacy: false, fill: '#111', fontFamily: FONT, fontSize: o.size || 12,
    fontWeight: o.weight || 'normal', align: o.align || 'center', verticalAlign: 'middle'
  };
  if (o.rich) style.rich = o.rich;
  graphics.push({ type: 'text', x, y, rotation: o.rot || 0, z: 100, silent: true, style });
}

const supRich = {
  n: { fontSize: 12, fontFamily: FONT, fill: '#111', lineHeight: 20, verticalAlign: 'bottom' },
  s: { fontSize: 11, fontFamily: FONT, fill: '#111', lineHeight: 11, verticalAlign: 'top' }
};

for (let p = 0; p < 9; p++) {
  const col = p % 3, row = Math.floor(p / 3);
  const L = colLeft[col], R = colRight[col], W = R - L;
  const gAr = addGrid(L, rowAr[row], W, rowK[row] - rowAr[row]);
  const gK = addGrid(L, rowK[row], W, rowAge[row] - rowK[row]);
  const gA = addGrid(L, rowAge[row], W, rowBot[row] - rowAge[row]);

  const xAr = addX(gAr, 'bottom', false);
  addX(gAr, 'top', false);
  const yAr = addY(gAr, 'left', 0, arMax[p], arTicks, 10, true);
  addY(gAr, 'right', 0, arMax[p], arTicks, 10, false);

  const xK = addX(gK, 'bottom', false);
  const yK = addY(gK, 'right', 0, kcaMax[p], kcaTicks[p], kcaMinor[p], true);
  addY(gK, 'left', 0, kcaMax[p], kcaTicks[p], kcaMinor[p], false);

  const xA = addX(gA, 'bottom', true);
  const yA = addY(gA, 'left', ageMin[p], ageMax[p], ageTicks[p], ageMinor[p], true);
  addY(gA, 'right', ageMin[p], ageMax[p], ageTicks[p], ageMinor[p], false);

  panelRuns[p].forEach((rows, i) => {
    const c = panelColors[p][i];
    series.push({ type: 'custom', xAxisIndex: xA, yAxisIndex: yA, silent: true,
      data: stepItems(rows, 1, 2), renderItem: stepRender(fills[c], strokes[c], 0) });
    series.push({ type: 'custom', xAxisIndex: xAr, yAxisIndex: yAr, silent: true,
      data: stepItems(rows, 3, null), renderItem: stepRender(fills[c], strokes[c], 1.8) });
    series.push({ type: 'custom', xAxisIndex: xK, yAxisIndex: yK, silent: true,
      data: stepItems(rows, 4, 5), renderItem: stepRender(fills[c], strokes[c], 0) });
  });

  series.push({
    type: 'custom', xAxisIndex: xA, yAxisIndex: yA, silent: true, z: 5,
    data: [[plateauFrom[p], plateauTo[p], plateauAt[p]]],
    renderItem: function (params, api) {
      const a = api.coord([api.value(0), api.value(2)]);
      const b = api.coord([api.value(1), api.value(2)]);
      const st = { stroke: '#333', lineWidth: 1.2 };
      return { type: 'group', children: [
        { type: 'line', shape: { x1: a[0], y1: a[1], x2: b[0], y2: b[1] }, style: st },
        { type: 'line', shape: { x1: a[0], y1: a[1] - 4, x2: a[0], y2: a[1] + 4 }, style: st },
        { type: 'line', shape: { x1: b[0], y1: b[1] - 4, x2: b[0], y2: b[1] + 4 }, style: st }
      ] };
    }
  });

  // annotations
  addText(R - noteDx[p], noteY[p], 'Data at 2-sigma, results at 2-sigma', { size: 11.7, align: 'right' });
  addText(titleX[p], titleY[p], titles[p], { size: 13.8, weight: 'bold' });
  addText(titleX[p], titleY[p] + 18.5, ageTexts[p], { size: 13.7 });
  addText(titleX[p], titleY[p] + 37, '(analytical/systematic uncertainties)', { size: 13.7 });
  ['Laboratory Run IDs:'].concat(runIds[p]).forEach((t, k) => {
    addText(idsRight[p], idsY[p] + k * 15.8, t, { size: 11.6, align: 'right' });
  });

  // axis names
  addText(L - 33, rowAr[row] + 27, '{n|%}{s|40}{n|Ar*}', { rot: Math.PI / 2, rich: supRich });
  addText(L - 37, ageNameY[p], 'Apparent Ar/Ar age (Ma)', { rot: Math.PI / 2, size: 12 });
  addText(R + 32, kcaNameY[row], 'K/Ca', { rot: -Math.PI / 2, size: 12 });
  addText((L + R) / 2 + 3, xNameY[row], '{n|Cumulative %}{s|39}{n|Ar released}', { rich: supRich });
}

const chart = echarts.init(document.getElementById('chart'), null, { renderer: 'canvas' });
chart.setOption({
  animation: false,
  backgroundColor: '#fff',
  grid: grids,
  xAxis: xAxes,
  yAxis: yAxes,
  series: series,
  graphic: { elements: graphics }
});
</script>
</body>
</html>
